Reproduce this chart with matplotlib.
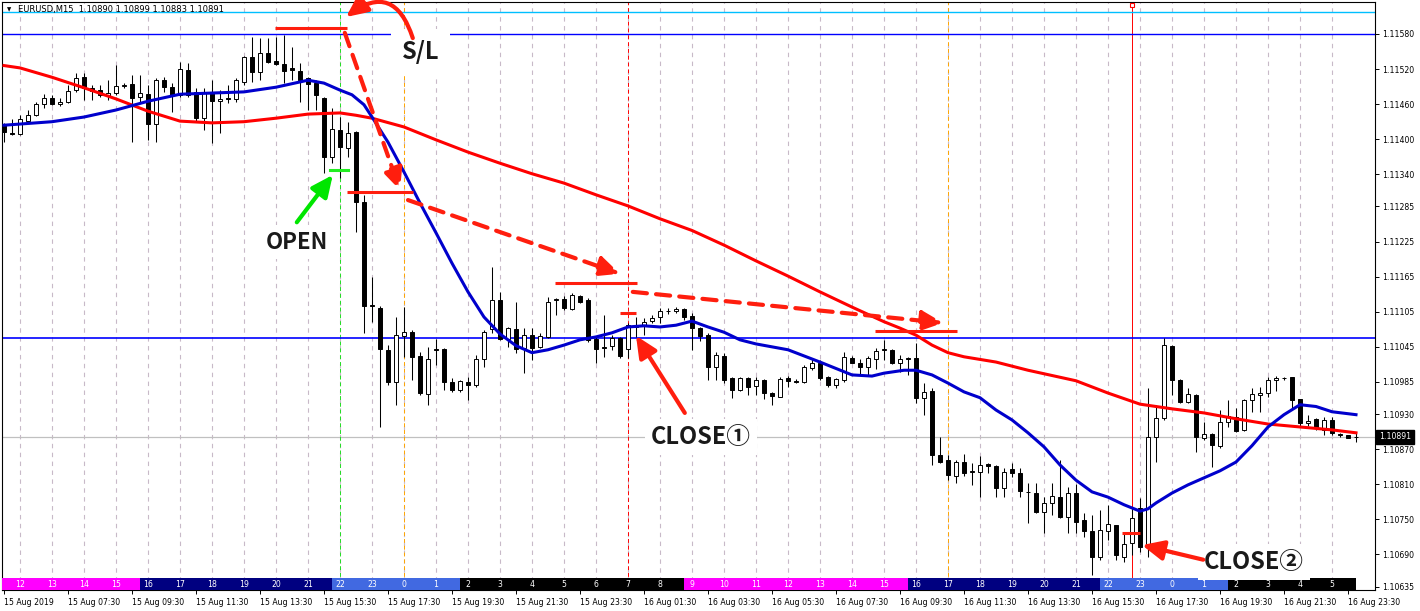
import matplotlib.pyplot as plt
import matplotlib as mpl
from matplotlib.transforms import blended_transform_factory

mpl.rcParams['font.family'] = ['DejaVu Sans']
mpl.rcParams['axes.linewidth'] = 0.8

POINT = 1e-5

# EURUSD M15, 15 Aug 2019 05:30 -> 16 Aug 2019 23:45, prices in points
opens = [111424, 111411, 111409, 111431, 111441, 111460, 111471, 111460, 111464, 111484,
         111506, 111488, 111484, 111474, 111479, 111491, 111494, 111472, 111477, 111426,
         111501, 111489, 111476, 111518, 111481, 111436, 111479, 111465, 111471, 111469,
         111498, 111541, 111515, 111547, 111534, 111529, 111522, 111517, 111505, 111496,
         111471, 111370, 111416, 111385, 111412, 111293, 111117, 111112, 111040, 110985,
         111064, 111070, 111029, 110964, 111041, 111041, 110985, 110971, 110985, 110980,
         111024, 111076, 111125, 111058, 111076, 111043, 111065, 111045, 111062, 111125,
         111127, 111110, 111132, 111125, 111058, 111045, 111047, 111060, 111041, 111079,
         111081, 111089, 111096, 111106, 111106, 111110, 111098, 111077, 111065, 111011,
         111029, 110992, 110971, 110992, 110978, 110988, 110966, 110959, 110992, 110987,
         110985, 111009, 111017, 110994, 110980, 110988, 111026, 111017, 111011, 111024,
         111040, 111040, 111017, 111026, 111026, 110958, 110970, 110860, 110852, 110824,
         110848, 110831, 110831, 110845, 110841, 110804, 110836, 110829, 110797, 110795,
         110763, 110778, 110788, 110754, 110795, 110749, 110730, 110686, 110730, 110740,
         110686, 110710, 110769, 110703, 110891, 110923, 111047, 110988, 110951, 110963,
         110889, 110896, 110875, 110917, 110925, 110903, 110954, 110963, 110966, 110988,
         110992, 110994, 110956, 110915, 110922, 110903, 110920, 110896, 110894, 110890]
highs = [111428, 111435, 111441, 111450, 111464, 111477, 111476, 111471, 111493, 111513,
         111513, 111493, 111493, 111501, 111527, 111496, 111510, 111510, 111493, 111505,
         111506, 111496, 111532, 111530, 111488, 111488, 111501, 111484, 111493, 111505,
         111542, 111575, 111573, 111573, 111575, 111578, 111558, 111530, 111506, 111501,
         111472, 111453, 111438, 111429, 111414, 111305, 111165, 111115, 111048, 111096,
         111113, 111074, 111036, 111045, 111058, 111043, 110992, 110988, 110994, 111031,
         111074, 111182, 111139, 111079, 111122, 111077, 111077, 111069, 111130, 111129,
         111132, 111137, 111134, 111129, 111062, 111100, 111065, 111062, 111086, 111096,
         111094, 111100, 111112, 111112, 111113, 111112, 111103, 111079, 111069, 111036,
         111035, 110994, 110994, 110994, 110994, 110990, 110968, 110994, 110995, 110990,
         111014, 111026, 111023, 110995, 110992, 111036, 111029, 111024, 111029, 111043,
         111057, 111041, 111031, 111028, 111052, 110983, 110975, 110891, 110860, 110852,
         110862, 110846, 110858, 110846, 110843, 110838, 110846, 110838, 110812, 110812,
         110788, 110812, 110852, 110805, 110811, 110761, 110757, 110766, 110775, 110740,
         110727, 110769, 110787, 110975, 110946, 111060, 111048, 110990, 110975, 110964,
         110917, 110898, 110937, 110954, 110940, 110956, 110975, 110976, 110994, 110995,
         110994, 110994, 110956, 110929, 110923, 110925, 110925, 110898, 110894, 110899]
lows = [111395, 111407, 111407, 111429, 111440, 111453, 111459, 111457, 111462, 111481,
        111467, 111467, 111472, 111467, 111476, 111488, 111395, 111464, 111399, 111395,
        111481, 111447, 111472, 111472, 111429, 111416, 111394, 111411, 111462, 111464,
        111493, 111498, 111501, 111530, 111527, 111496, 111501, 111464, 111450, 111450,
        111342, 111359, 111334, 111370, 111241, 111069, 111088, 110908, 110980, 110946,
        111028, 110988, 110963, 110946, 111014, 110971, 110968, 110968, 110954, 110976,
        111011, 111069, 111057, 111045, 111035, 111000, 111023, 111043, 111060, 111100,
        111108, 111108, 111120, 111053, 111017, 111028, 111040, 111026, 111026, 111062,
        111065, 111086, 111086, 111101, 111103, 111091, 111040, 111055, 110988, 110988,
        110983, 110958, 110970, 110963, 110963, 110956, 110946, 110959, 110976, 110983,
        110983, 111005, 110988, 110976, 110975, 110985, 111017, 110997, 110997, 111007,
        111023, 111016, 111002, 110997, 110949, 110929, 110843, 110846, 110817, 110812,
        110824, 110809, 110788, 110829, 110788, 110788, 110822, 110788, 110744, 110761,
        110727, 110757, 110752, 110727, 110727, 110720, 110655, 110680, 110715, 110680,
        110677, 110689, 110694, 110686, 110848, 110920, 110963, 110949, 110949, 110865,
        110886, 110840, 110872, 110908, 110899, 110901, 110934, 110934, 110959, 110970,
        110988, 110937, 110910, 110910, 110903, 110894, 110894, 110891, 110889, 110883]
closes = [111412, 111409, 111435, 111441, 111460, 111471, 111460, 111464, 111482, 111505,
          111488, 111482, 111476, 111479, 111491, 111493, 111471, 111479, 111426, 111501,
          111489, 111476, 111520, 111476, 111436, 111481, 111465, 111469, 111469, 111501,
          111541, 111515, 111547, 111532, 111529, 111517, 111518, 111501, 111494, 111476,
          111370, 111418, 111387, 111411, 111293, 111115, 111115, 111041, 110985, 111065,
          111070, 111028, 110966, 111024, 111040, 110985, 110971, 110987, 110980, 111024,
          111070, 111125, 111058, 111077, 111041, 111065, 111043, 111064, 111122, 111127,
          111112, 111134, 111122, 111057, 111041, 111043, 111060, 111029, 111082, 111081,
          111088, 111094, 111106, 111106, 111110, 111096, 111077, 111064, 111011, 111031,
          110988, 110971, 110992, 110976, 110988, 110966, 110961, 110990, 110987, 110985,
          111011, 111017, 110992, 110980, 110990, 111028, 111017, 111011, 111026, 111038,
          111041, 111017, 111024, 111024, 110958, 110968, 110860, 110848, 110826, 110848,
          110829, 110832, 110843, 110841, 110804, 110831, 110829, 110799, 110796, 110763,
          110778, 110790, 110754, 110795, 110745, 110730, 110686, 110732, 110742, 110689,
          110708, 110752, 110703, 110891, 110923, 111048, 110988, 110951, 110964, 110891,
          110896, 110877, 110917, 110927, 110901, 110954, 110964, 110966, 110988, 110992,
          110991, 110954, 110915, 110918, 110906, 110920, 110898, 110895, 110889, 110891]

# moving averages (bar index, points)
ma_fast_idx = [0, 2, 6, 10, 14, 18, 22, 26, 30, 34, 37, 38, 40, 42, 43.5, 45, 46, 48, 50, 52,
               54, 56, 58, 60, 62, 64, 66, 68, 70, 72, 74, 76, 78, 80, 82, 84, 86, 88, 90, 92,
               94, 98, 102, 106, 108.5, 110, 112.5, 114, 116, 118, 120, 122, 124, 126, 128, 130,
               132, 134, 136, 138, 140, 142, 143, 144, 146, 148, 150, 152, 154, 156, 158, 160,
               162, 164, 166, 169]
ma_fast = [111424, 111426, 111430, 111438, 111450, 111465, 111477, 111479, 111481, 111489,
           111498, 111501, 111496, 111484, 111476, 111459, 111438, 111395, 111344, 111291,
           111240, 111188, 111139, 111096, 111067, 111047, 111035, 111040, 111048, 111057,
           111062, 111069, 111079, 111081, 111079, 111082, 111089, 111079, 111070, 111057,
           111050, 111040, 111019, 110997, 110995, 111000, 111005, 111005, 110997, 110983,
           110968, 110958, 110937, 110920, 110898, 110874, 110843, 110817, 110797, 110788,
           110775, 110764, 110768, 110778, 110795, 110809, 110821, 110833, 110848, 110876,
           110908, 110929, 110946, 110943, 110934, 110929]
ma_slow_idx = [0, 2, 6, 10, 14, 18, 22, 26, 30, 34, 38, 42, 44, 46, 50, 54, 58, 62, 66, 70,
               74, 78, 82, 86, 90, 94, 98, 102, 106, 110, 112, 114, 116, 118, 120, 124, 128, 132,
               134, 138, 142, 146, 150, 154, 158, 162, 166, 169]
ma_slow = [111526, 111522, 111506, 111488, 111469, 111448, 111431, 111428, 111430, 111436,
           111443, 111445, 111441, 111436, 111421, 111399, 111378, 111359, 111341, 111325,
           111305, 111286, 111264, 111244, 111219, 111192, 111166, 111139, 111113, 111088,
           111077, 111065, 111048, 111035, 111028, 111019, 111005, 110993, 110987, 110966,
           110947, 110939, 110932, 110922, 110913, 110908, 110903, 110898]

price_ticks = ["1.11580", "1.11520", "1.11460", "1.11400", "1.11340", "1.11285", "1.11225",
               "1.11165", "1.11105", "1.11045", "1.10985", "1.10930", "1.10870", "1.10810",
               "1.10750", "1.10690", "1.10635"]
date_labels = ["15 Aug 2019", "15 Aug 07:30", "15 Aug 09:30", "15 Aug 11:30", "15 Aug 13:30",
               "15 Aug 15:30", "15 Aug 17:30", "15 Aug 19:30", "15 Aug 21:30", "15 Aug 23:30",
               "16 Aug 01:30", "16 Aug 03:30", "16 Aug 05:30", "16 Aug 07:30", "16 Aug 09:30",
               "16 Aug 11:30", "16 Aug 13:30", "16 Aug 15:30", "16 Aug 17:30", "16 Aug 19:30",
               "16 Aug 21:30", "16 Aug 23:30"]
session_hours = list(range(11, 24)) + list(range(0, 24)) + list(range(0, 6))

last_price = 1.10891
hlines = {"cyan": 1.11618, "upper": 1.11580, "lower": 1.11060}
stop_levels = [(33.9, 42.9, 1.11590), (42.9, 51.1, 1.11310),
               (68.9, 79.1, 1.11154), (108.9, 119.1, 1.11072)]
open_mark = (40.75, 43.0, 1.11347)
close_marks = [(77.0, 79.0, 1.11103), (139.75, 142.0, 1.10727)]

RED = '#ff1e0e'
TXT_FONT = ['Liberation Sans Narrow', 'Noto Sans CJK JP', 'DejaVu Sans']


def session_color(h):
    if 9 <= h <= 15:
        return '#ff00ff'
    if 16 <= h <= 21:
        return '#000080'
    if h >= 22 or h <= 1:
        return '#4169e1'
    return '#000000'


def arrow(ax, tail, tip, color, dashed=False, **kw):
    props = dict(arrowstyle='-|>,head_length=1.3,head_width=0.6', color=color, lw=3,
                 shrinkA=0, shrinkB=0, mutation_scale=10)
    if dashed:
        props['linestyle'] = (0, (3.4, 2.2))
    props.update(kw)
    ax.annotate('', xy=tip, xytext=tail, arrowprops=props, zorder=9)


fig = plt.figure(figsize=(14.2, 6.11), dpi=100)
ax = fig.add_axes([2 / 1420, 21 / 611, 1373 / 1420, 588 / 611])
ax.set_xlim(-0.25, 171.375)
ax.set_ylim(1.106292, 1.116347)

o = [v * POINT for v in opens]
h = [v * POINT for v in highs]
l = [v * POINT for v in lows]
c = [v * POINT for v in closes]
idx = list(range(len(o)))

# hourly separators
for i in range(2, len(o), 4):
    ax.axvline(i, color='#c8b9c8', lw=0.8, ls=(0, (4, 4)), zorder=1)

for i, col, ls in [(42, '#22dd22', (0, (4, 3))), (50, '#ffa500', (0, (4, 3))),
                   (78, '#ff0000', (0, (4, 3))), (118, '#ffa500', (0, (4, 3))),
                   (141, '#ff0000', '-')]:
    ax.axvline(i, color=col, lw=0.7, ls=ls, zorder=2)
ax.plot([141], [1.11630], marker='s', ms=3.5, mfc='white', mec='#ff0000', mew=0.8,
        zorder=10, clip_on=False)

ax.axhline(hlines["cyan"], color='#00bfff', lw=1, zorder=2)
ax.axhline(hlines["upper"], color='#0000ff', lw=1, zorder=2)
ax.axhline(hlines["lower"], color='#0000ff', lw=1.2, zorder=2)
ax.axhline(last_price, color='#c0c0c0', lw=0.9, zorder=1.5)

# candles
ax.vlines(idx, l, h, color='black', lw=0.75, zorder=3)
bottoms = [min(a, b) for a, b in zip(o, c)]
heights = [abs(b - a) for a, b in zip(o, c)]
faces = ['white' if b >= a else 'black' for a, b in zip(o, c)]
ax.bar(idx, heights, width=0.55, bottom=bottoms, color=faces, edgecolor='black',
       linewidth=0.7, zorder=4)

ax.plot(ma_slow_idx, [v * POINT for v in ma_slow], color='#ff0000', lw=2.2, zorder=6)
ax.plot(ma_fast_idx, [v * POINT for v in ma_fast], color='#0000cc', lw=2.2, zorder=6)

# session bar along the bottom
trans = blended_transform_factory(ax.transData, ax.transAxes)
for k, hr in enumerate(session_hours):
    start = 1 + 4 * (k - 1)
    ax.axvspan(start, start + 4, ymin=0, ymax=0.0204, color=session_color(hr), lw=0, zorder=5)
    if start + 1 > ax.get_xlim()[0]:
        ax.text(start + 1, 0.0102, str(hr), transform=trans, color='white', fontsize=5.6,
                ha='center', va='center', zorder=6)

# trade annotations
for x0, x1, y in stop_levels:
    ax.plot([x0, x1], [y, y], color=RED, lw=2.2, solid_capstyle='butt', zorder=8)
for x0, x1, y in close_marks:
    ax.plot([x0, x1], [y, y], color=RED, lw=2.2, solid_capstyle='butt', zorder=8)
ax.plot(open_mark[:2], [open_mark[2]] * 2, color='#22ee22', lw=2.2, zorder=8)

arrow(ax, (42.6, 1.11582), (49.5, 1.11313), RED, dashed=True)
arrow(ax, (50.5, 1.11296), (77.0, 1.11170), RED, dashed=True)
arrow(ax, (78.6, 1.11139), (117.4, 1.11086), RED, dashed=True)
arrow(ax, (51.1, 1.11573), (42.75, 1.11609), RED, connectionstyle='arc3,rad=0.7')
arrow(ax, (85.1, 1.10932), (79.0, 1.11064), RED)
arrow(ax, (149.9, 1.10681), (142.25, 1.10706), RED)
arrow(ax, (36.6, 1.11258), (41.1, 1.11339), '#00e600')

label_box = dict(boxstyle='square,pad=0.25', fc='white', ec='none')
ax.text(52.1, 1.11549, "S/L", family=TXT_FONT, fontsize=17, fontweight='bold',
        color='#1a1a1a', ha='center', va='center', zorder=7,
        bbox=dict(boxstyle='square,pad=0.45', fc='white', ec='none'))
ax.text(36.6, 1.11224, "OPEN", family=TXT_FONT, fontsize=16, fontweight='bold',
        color='#1a1a1a', ha='center', va='center', zorder=7, bbox=label_box)
ax.text(87.1, 1.10891, "CLOSE①", family=TXT_FONT, fontsize=17, fontweight='bold',
        color='#1a1a1a', ha='center', va='center', zorder=7, bbox=label_box)
ax.text(156.25, 1.10677, "CLOSE②", family=TXT_FONT, fontsize=17, fontweight='bold',
        color='#1a1a1a', ha='center', va='center', zorder=7, bbox=label_box)

# header
ax.text(0.0051, 0.9866, "▼", transform=ax.transAxes, fontsize=4, ha='center', va='center',
        zorder=10)
ax.text(0.0117, 0.9864, "EURUSD,M15  1.10890 1.10899 1.10883 1.10891",
        transform=ax.transAxes, fontsize=6, ha='left', va='center', zorder=10)

# axes
ax.yaxis.tick_right()
ax.set_yticks([float(t) for t in price_ticks])
ax.set_yticklabels(price_ticks)
ax.tick_params(axis='y', direction='out', length=3, width=0.7, pad=2, labelsize=5.6)
ax.set_xticks(range(0, len(o), 8))
ax.set_xticklabels(date_labels, ha='left')
ax.tick_params(axis='x', direction='out', length=3, width=0.7, pad=2.5, labelsize=5.6)
for s in ax.spines.values():
    s.set_color('black')

ax.annotate(f"{last_price:.5f}", xy=(1, last_price), xycoords=('axes fraction', 'data'),
            xytext=(3, 0), textcoords='offset points', ha='left', va='center', fontsize=5.6,
            color='white', annotation_clip=False, zorder=11,
            bbox=dict(boxstyle='square,pad=0.35', fc='black', ec='black'))

fig.savefig('out.png', dpi=100)
